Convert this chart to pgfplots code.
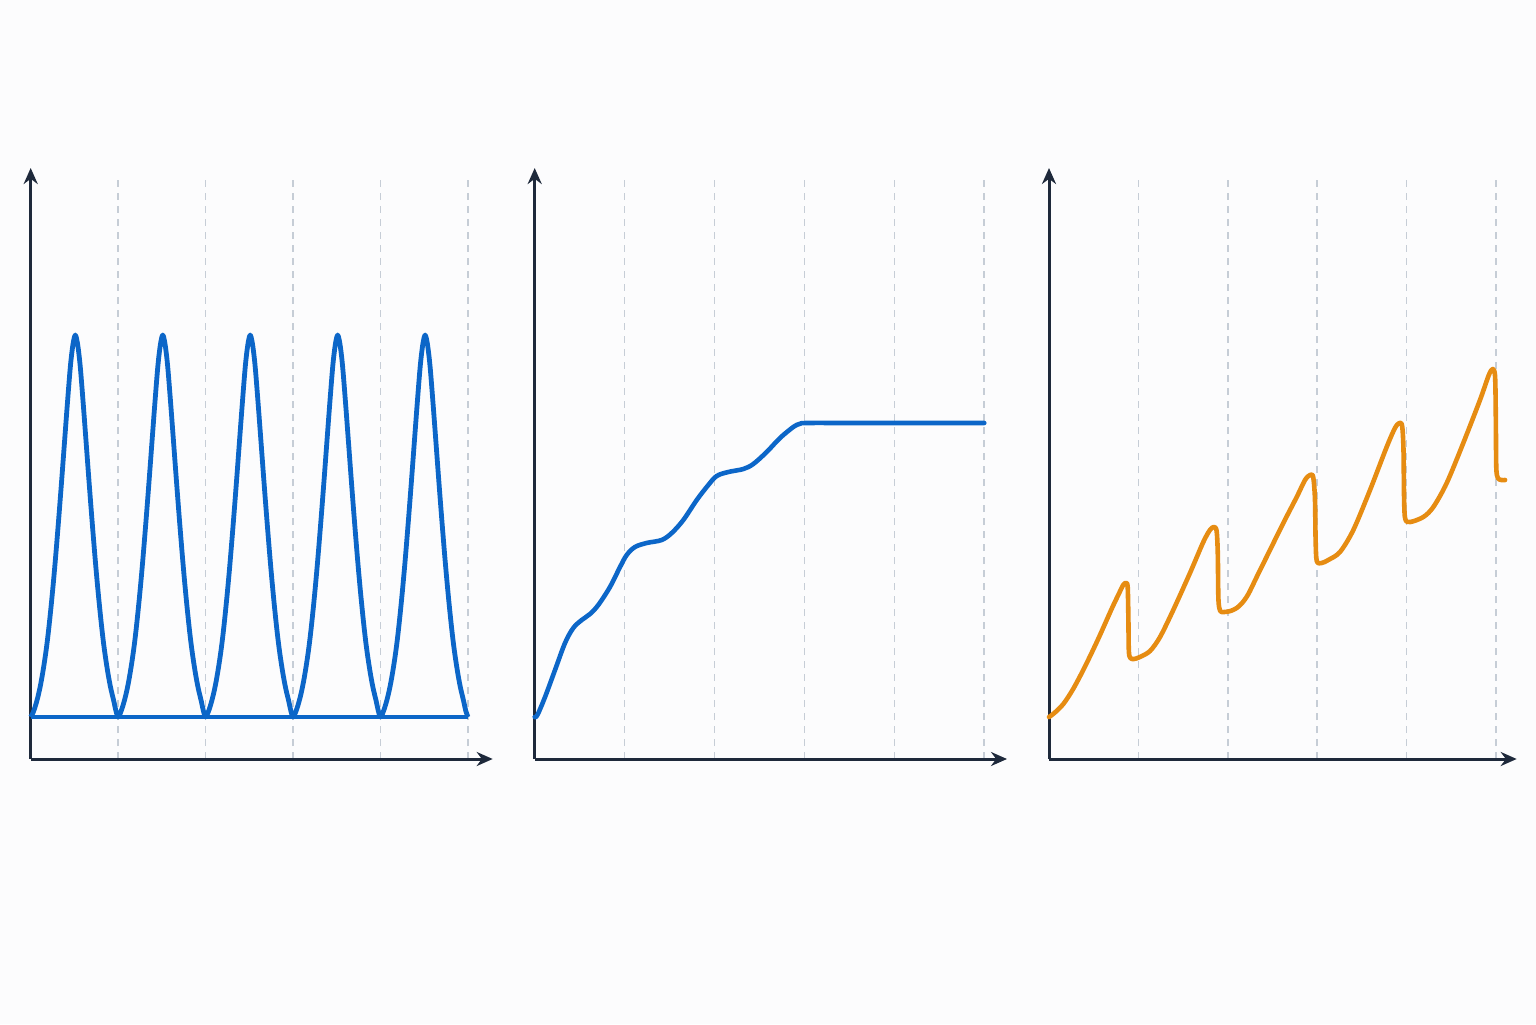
\documentclass[border=0pt]{standalone}
\usepackage{pgfplots}
\pgfplotsset{compat=1.18}
\usetikzlibrary{arrows.meta}
\definecolor{bgc}{RGB}{252,252,253}
\definecolor{axc}{RGB}{30,41,59}
\definecolor{gridc}{RGB}{198,205,214}
\definecolor{blu}{RGB}{12,102,200}
\definecolor{org}{RGB}{230,140,18}
\pgfplotsset{
  panel/.style={
    scale only axis,
    height=289.5pt,
    xmin=0, xmax=5, ymin=0, ymax=5.79,
    axis lines=left,
    axis line style={line width=1.5pt, color=axc, -{Stealth[length=8pt,width=7pt]}},
    xtick={1,2,3,4,5}, ytick=\empty,
    xticklabels={},
    major tick length=0pt,
    xmajorgrids,
    grid style={gridc, line width=0.85pt, dash pattern=on 3.5pt off 3pt},
    y axis line style={shorten >=-6pt},
    clip=false,
  },
}
\pgfplotstableread{
x y
0.000 0.42
0.030 0.47
0.070 0.58
0.110 0.73
0.150 0.93
0.190 1.18
0.230 1.50
0.270 1.87
0.310 2.29
0.350 2.74
0.390 3.21
0.420 3.56
0.450 3.89
0.470 4.06
0.490 4.18
0.510 4.24
0.530 4.18
0.550 4.06
0.570 3.89
0.600 3.56
0.630 3.21
0.670 2.74
0.710 2.29
0.750 1.87
0.790 1.50
0.830 1.18
0.870 0.93
0.910 0.73
0.950 0.58
0.975 0.48
1.000 0.42
1.030 0.47
1.070 0.58
1.110 0.73
1.150 0.93
1.190 1.18
1.230 1.50
1.270 1.87
1.310 2.29
1.350 2.74
1.390 3.21
1.420 3.56
1.450 3.89
1.470 4.06
1.490 4.18
1.510 4.24
1.530 4.18
1.550 4.06
1.570 3.89
1.600 3.56
1.630 3.21
1.670 2.74
1.710 2.29
1.750 1.87
1.790 1.50
1.830 1.18
1.870 0.93
1.910 0.73
1.950 0.58
1.975 0.48
2.000 0.42
2.030 0.47
2.070 0.58
2.110 0.73
2.150 0.93
2.190 1.18
2.230 1.50
2.270 1.87
2.310 2.29
2.350 2.74
2.390 3.21
2.420 3.56
2.450 3.89
2.470 4.06
2.490 4.18
2.510 4.24
2.530 4.18
2.550 4.06
2.570 3.89
2.600 3.56
2.630 3.21
2.670 2.74
2.710 2.29
2.750 1.87
2.790 1.50
2.830 1.18
2.870 0.93
2.910 0.73
2.950 0.58
2.975 0.48
3.000 0.42
3.030 0.47
3.070 0.58
3.110 0.73
3.150 0.93
3.190 1.18
3.230 1.50
3.270 1.87
3.310 2.29
3.350 2.74
3.390 3.21
3.420 3.56
3.450 3.89
3.470 4.06
3.490 4.18
3.510 4.24
3.530 4.18
3.550 4.06
3.570 3.89
3.600 3.56
3.630 3.21
3.670 2.74
3.710 2.29
3.750 1.87
3.790 1.50
3.830 1.18
3.870 0.93
3.910 0.73
3.950 0.58
3.975 0.48
4.000 0.42
4.030 0.47
4.070 0.58
4.110 0.73
4.150 0.93
4.190 1.18
4.230 1.50
4.270 1.87
4.310 2.29
4.350 2.74
4.390 3.21
4.420 3.56
4.450 3.89
4.470 4.06
4.490 4.18
4.510 4.24
4.530 4.18
4.550 4.06
4.570 3.89
4.600 3.56
4.630 3.21
4.670 2.74
4.710 2.29
4.750 1.87
4.790 1.50
4.830 1.18
4.870 0.93
4.910 0.73
4.950 0.58
4.975 0.48
5.000 0.42
}\pulses
\pgfplotstableread{
x y
0.000 0.42
0.030 0.44
0.115 0.62
0.226 0.89
0.337 1.16
0.429 1.31
0.523 1.39
0.615 1.45
0.707 1.54
0.837 1.72
0.949 1.92
1.023 2.04
1.115 2.12
1.245 2.16
1.412 2.19
1.524 2.26
1.653 2.39
1.802 2.59
1.931 2.74
2.024 2.83
2.153 2.87
2.320 2.90
2.431 2.95
2.580 3.07
2.728 3.21
2.876 3.32
2.950 3.352
3.030 3.36
3.500 3.36
4.000 3.36
4.500 3.36
5.000 3.36
}\ramp
\pgfplotstableread{
x y
0.000 0.42
0.060 0.46
0.160 0.55
0.270 0.70
0.400 0.92
0.550 1.20
0.700 1.50
0.780 1.65
0.830 1.74
0.860 1.76
0.880 1.72
0.888 1.40
0.893 1.08
0.910 1.01
0.950 1.00
1.018 1.02
1.130 1.08
1.242 1.22
1.390 1.49
1.577 1.86
1.726 2.17
1.800 2.29
1.845 2.32
1.875 2.28
1.888 2.05
1.895 1.60
1.915 1.48
1.960 1.47
2.030 1.48
2.100 1.51
2.160 1.56
2.230 1.65
2.323 1.82
2.472 2.09
2.621 2.36
2.771 2.62
2.864 2.79
2.920 2.84
2.955 2.82
2.975 2.60
2.982 2.20
2.995 1.98
3.050 1.96
3.124 1.99
3.255 2.07
3.404 2.29
3.591 2.69
3.777 3.12
3.870 3.31
3.920 3.36
3.950 3.33
3.965 3.10
3.972 2.60
3.985 2.40
4.040 2.37
4.187 2.42
4.299 2.52
4.449 2.76
4.634 3.16
4.821 3.59
4.920 3.84
4.965 3.90
4.990 3.82
4.998 3.40
5.003 2.92
5.020 2.81
5.060 2.79
5.101 2.79
}\saw
\begin{document}
\begin{tikzpicture}
\fill[bgc] (0,0) rectangle (768pt,512pt);
\useasboundingbox (0,0) rectangle (768pt,512pt);
\begin{axis}[panel, width=218.65pt, at={(15.35pt,132.5pt)}, anchor=south west,
  x axis line style={shorten >=-12.35pt}]
  \addplot[blu, line width=2pt, no marks] coordinates {(0,0.42) (5,0.42)};
  \addplot[blu, line width=2.4pt, no marks, smooth, tension=0.6, line join=round] table {\pulses};
\end{axis}
\begin{axis}[panel, width=224.8pt, at={(267.35pt,132.5pt)}, anchor=south west,
  x axis line style={shorten >=-11.35pt}]
  \addplot[blu, line width=2.3pt, no marks, smooth, tension=0.55, line join=round, line cap=round] table {\ramp};
\end{axis}
\begin{axis}[panel, width=223.5pt, at={(524.5pt,132.5pt)}, anchor=south west,
  x axis line style={shorten >=-10.35pt}]
  \addplot[org, line width=2.3pt, no marks, smooth, tension=0.5, line join=round, line cap=round] table {\saw};
\end{axis}
\end{tikzpicture}
\end{document}
